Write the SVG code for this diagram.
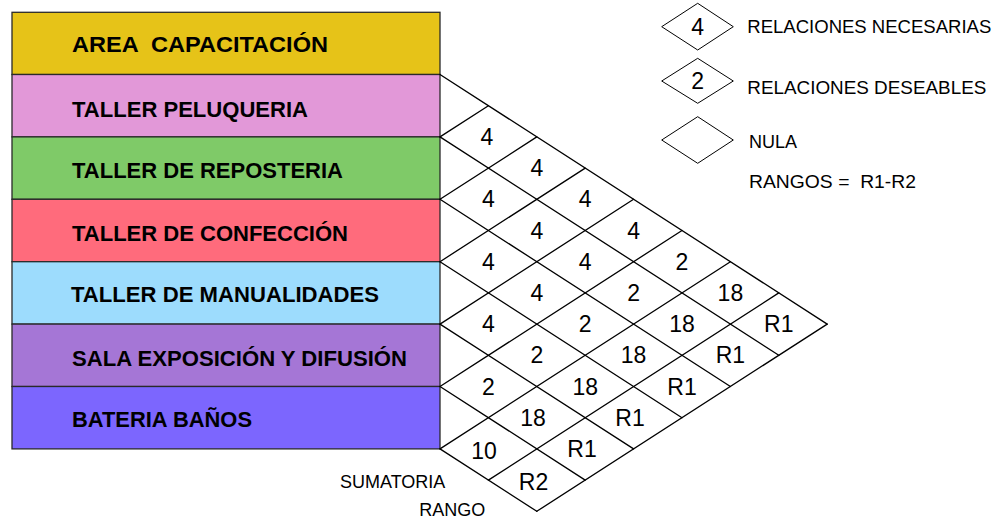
<svg xmlns="http://www.w3.org/2000/svg" width="1001" height="523" viewBox="0 0 1001 523">
<style>
.row{stroke:#2a2a2a;stroke-width:1.3}
.lbl{font-family:"Liberation Sans",Arial,sans-serif;font-weight:bold;font-size:21.5px;fill:#000;white-space:pre}
.grid{stroke:#000;stroke-width:1.3;fill:none;stroke-linecap:round}
.num{font-family:"Liberation Sans",Arial,sans-serif;font-size:23px;fill:#000;text-anchor:middle}
.leg{stroke:#000;stroke-width:1;fill:#fff}
.lt{font-family:"Liberation Sans",Arial,sans-serif;font-size:18px;fill:#000;white-space:pre}
.bt{font-family:"Liberation Sans",Arial,sans-serif;font-size:18px;fill:#000}
</style>
<rect width="1001" height="523" fill="#fff"/>
<g id="area-capacitacion"><rect class="row" x="12" y="12.3" width="428" height="62.2" fill="#E6C318" stroke="#000" stroke-width="1.6"/><text class="lbl" x="72" y="52.3" xml:space="preserve" textLength="256" lengthAdjust="spacingAndGlyphs">AREA  CAPACITACIÓN</text></g>
<g id="taller-peluqueria"><rect class="row" x="12" y="74.5" width="428" height="62.4" fill="#E298D8"/><text class="lbl" x="72" y="117" textLength="236" lengthAdjust="spacingAndGlyphs">TALLER PELUQUERIA</text></g>
<g id="taller-reposteria"><rect class="row" x="12" y="136.9" width="428" height="62.4" fill="#7FCA68"/><text class="lbl" x="72" y="178.3" textLength="271" lengthAdjust="spacingAndGlyphs">TALLER DE REPOSTERIA</text></g>
<g id="taller-confeccion"><rect class="row" x="12" y="199.3" width="428" height="62.4" fill="#FF6B7C"/><text class="lbl" x="72" y="240.7" textLength="276" lengthAdjust="spacingAndGlyphs">TALLER DE CONFECCIÓN</text></g>
<g id="taller-manualidades"><rect class="row" x="12" y="261.7" width="428" height="62.4" fill="#9DDCFD"/><text class="lbl" x="71" y="301.7" textLength="308" lengthAdjust="spacingAndGlyphs">TALLER DE MANUALIDADES</text></g>
<g id="sala-exposicion"><rect class="row" x="12" y="324.1" width="428" height="62.4" fill="#A576D6"/><text class="lbl" x="72" y="365.7" textLength="335" lengthAdjust="spacingAndGlyphs">SALA EXPOSICIÓN Y DIFUSIÓN</text></g>
<g id="bateria-banos"><rect class="row" x="12" y="386.5" width="428" height="62.4" fill="#7C66FE"/><text class="lbl" x="72" y="426.7" textLength="180" lengthAdjust="spacingAndGlyphs">BATERIA BAÑOS</text></g>
<g id="connectors" class="grid">
<line x1="440" y1="74.5" x2="827.2" y2="324.1"/>
<line x1="440" y1="136.9" x2="778.8" y2="355.3"/>
<line x1="440" y1="199.3" x2="730.4" y2="386.5"/>
<line x1="440" y1="261.7" x2="682" y2="417.7"/>
<line x1="440" y1="324.1" x2="633.6" y2="448.9"/>
<line x1="440" y1="386.5" x2="585.2" y2="480.1"/>
<line x1="440" y1="448.9" x2="536.8" y2="511.3"/>
<line x1="440" y1="136.9" x2="488.4" y2="105.7"/>
<line x1="440" y1="199.3" x2="536.8" y2="136.9"/>
<line x1="440" y1="261.7" x2="585.2" y2="168.1"/>
<line x1="440" y1="324.1" x2="633.6" y2="199.3"/>
<line x1="440" y1="386.5" x2="682" y2="230.5"/>
<line x1="440" y1="448.9" x2="730.4" y2="261.7"/>
<line x1="488.4" y1="480.1" x2="778.8" y2="292.9"/>
<line x1="536.8" y1="511.3" x2="827.2" y2="324.1"/>
</g>
<g id="cell-values" class="num">
<text x="487" y="144.9">4</text>
<text x="536.8" y="176.1">4</text>
<text x="585.2" y="207.3">4</text>
<text x="633.6" y="238.5">4</text>
<text x="682" y="269.7">2</text>
<text x="730.4" y="300.9">18</text>
<text x="778.8" y="332.1">R1</text>
<text x="488.4" y="207.3">4</text>
<text x="536.8" y="238.5">4</text>
<text x="585.2" y="269.7">4</text>
<text x="633.6" y="300.9">2</text>
<text x="682" y="332.1">18</text>
<text x="730.4" y="363.3">R1</text>
<text x="488.4" y="269.7">4</text>
<text x="536.8" y="300.9">4</text>
<text x="585.2" y="332.1">2</text>
<text x="633.6" y="363.3">18</text>
<text x="682" y="394.5">R1</text>
<text x="488.4" y="332.1">4</text>
<text x="536.8" y="363.3">2</text>
<text x="585.2" y="394.5">18</text>
<text x="630" y="425.7">R1</text>
<text x="488.4" y="394.5">2</text>
<text x="533" y="425.7">18</text>
<text x="582" y="456.9">R1</text>
<text x="484" y="459.4">10</text>
<text x="533.5" y="489.6">R2</text>
</g>
<g id="bottom-labels" class="bt">
<text x="340" y="487.7">SUMATORIA</text>
<text x="419.3" y="516">RANGO</text>
</g>
<g id="legend-necesarias"><polygon class="leg" points="661.7,26.7 697.7,3.3 733.3,26.7 697.7,50"/><text class="num" x="697.7" y="35" font-size="23">4</text><text class="lt" x="747.3" y="33.3" textLength="244" lengthAdjust="spacingAndGlyphs">RELACIONES NECESARIAS</text></g>
<g id="legend-deseables"><polygon class="leg" points="661.7,81 697.7,58.3 733.3,81 697.7,103.3"/><text class="num" x="697.7" y="89.3" font-size="23">2</text><text class="lt" x="747.3" y="93.5" textLength="239" lengthAdjust="spacingAndGlyphs">RELACIONES DESEABLES</text></g>
<g id="legend-nula"><polygon class="leg" points="661.7,140 697.7,116.7 733.3,140 697.7,163.3"/><text class="lt" x="749" y="148.3">NULA</text></g>
<g id="legend-rangos"><text class="lt" x="749" y="188.3" xml:space="preserve" textLength="167" lengthAdjust="spacingAndGlyphs">RANGOS =  R1-R2</text></g>
</svg>
